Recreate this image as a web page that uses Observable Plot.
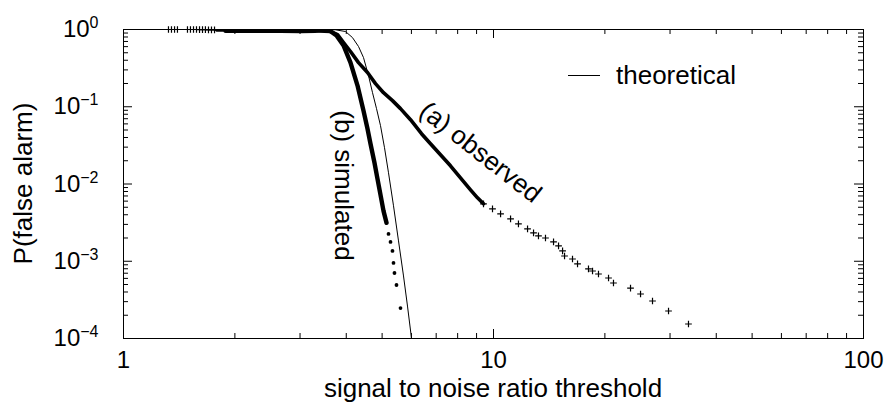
<!DOCTYPE html>
<html><head><meta charset="utf-8">
<script src="https://cdn.jsdelivr.net/npm/d3@7"></script>
<script src="https://cdn.jsdelivr.net/npm/@observablehq/plot@0.6"></script>
<style>
  body { margin: 0; background: #fff; }
  #chart { width: 888px; height: 410px; }
</style>
</head><body>
<div id="chart"></div>
<script>
// ---------- data ----------
const theoSnr = [1.0, 3.008, 3.741, 3.981, 4.157, 4.317, 4.453, 4.594, 4.710, 4.829, 4.950, 5.075, 5.203, 5.367, 5.537, 5.712, 5.855, 6.002, 6.04];
const theoPfa = [1.0, 1.0, 0.991, 0.942, 0.787, 0.602, 0.433, 0.253, 0.152, 0.0945, 0.0569, 0.0295, 0.01397, 0.00522, 0.001834, 0.000645, 0.000263, 0.000101, 0.00008];

const obsSnr = [1.323, 1.348, 1.374, 1.399, 1.489, 1.517, 1.546, 1.575, 1.605, 1.635, 1.665, 1.697, 1.729, 1.762,
  1.784, 1.946, 2.274, 2.657, 3.008, 3.365, 3.626, 3.788, 3.932, 4.107, 4.317, 4.565, 4.798, 5.043, 5.333, 5.606, 5.967,
  6.390, 6.756, 7.190, 7.651, 8.143, 8.667, 9.053, 9.397,
  9.938, 10.45, 11.12, 11.68, 12.36, 12.83, 13.23, 13.82, 14.53, 14.99, 15.37, 15.56, 16.35, 16.87, 18.06, 18.52, 19.22,
  20.46, 21.10, 23.46, 24.97, 26.90, 29.72, 33.65];
const obsPfa = [1, 1, 1, 1, 1, 1, 1, 1, 0.995, 0.995, 0.995, 0.99, 0.99, 0.99,
  0.99, 0.985, 0.975, 0.97, 0.96, 0.955, 0.945, 0.861, 0.678, 0.519, 0.373, 0.277, 0.199, 0.152, 0.120, 0.0945, 0.0680,
  0.0448, 0.0332, 0.0239, 0.0172, 0.01203, 0.00841, 0.00662, 0.00554,
  0.00477, 0.00411, 0.00354, 0.00305, 0.00262, 0.00233, 0.00213, 0.00200, 0.00178, 0.00158, 0.00136, 0.00117, 0.00107, 0.000923, 0.000795, 0.000748, 0.000684,
  0.000607, 0.000523, 0.000450, 0.000377, 0.000306, 0.000227, 0.000154];

const simSnr = [1.887, 2.204, 2.657, 3.008, 3.303, 3.471, 3.626, 3.764, 3.932, 4.107, 4.290, 4.453, 4.565, 4.651, 4.768, 4.858, 4.950, 5.043, 5.139,
  5.203, 5.268, 5.333, 5.367, 5.400, 5.468, 5.606];
const simPfa = [0.96, 0.96, 0.96, 0.955, 0.965, 1.0, 0.95, 0.836, 0.620, 0.373, 0.188, 0.0890, 0.0520, 0.0332, 0.01884, 0.01168, 0.00724, 0.00449, 0.00314,
  0.00226, 0.00178, 0.00136, 0.00095, 0.000705, 0.000493, 0.000248];

const xMajor = [1, 10, 100];
const xMinor = [2, 3, 4, 5, 6, 7, 8, 9, 20, 30, 40, 50, 60, 70, 80, 90];
const yMajor = [1e-4, 1e-3, 1e-2, 1e-1, 1];
const yMinor = [-4, -3, -2, -1].flatMap(e => [2, 3, 4, 5, 6, 7, 8, 9].map(k => k * Math.pow(10, e)));

const xTitle = "signal to noise ratio threshold";
const yTitle = "P(false alarm)";
const legendLabel = "theoretical";
const curveLabels = [
  {text: "(a) observed", snr: 9.22, pfa: 0.0256, rotate: 38},
  {text: "(b) simulated", snr: 3.93, pfa: 0.00957, rotate: 90}
];

// ---------- build tables ----------
const theo = theoSnr.map((s, i) => ({snr: s, pfa: theoPfa[i]}));
const obs = obsSnr.map((s, i) => ({snr: s, pfa: obsPfa[i]}));
const sim = simSnr.map((s, i) => ({snr: s, pfa: simPfa[i]}));
const obsDense = obs.filter(d => d.snr >= 1.78 && d.snr <= 9.4);
const obsSparse = obs.filter(d => d.snr < 1.78 || d.snr >= 9.39);
const simDense = sim.filter(d => d.snr <= 5.14);
const simSparse = sim.filter(d => d.snr >= 5.2);

const W = 888, H = 410, mL = 123, mR = 25, mT = 29, mB = 72;
const fw = W - mL - mR, fh = H - mT - mB;
const FONT = "'Liberation Sans', Arial, Helvetica, sans-serif";

const plot = Plot.plot({
  width: W, height: H,
  marginLeft: mL, marginRight: mR, marginTop: mT, marginBottom: mB,
  x: {type: "log", domain: [1, 100]},
  y: {type: "log", domain: [1e-4, 1]},
  style: {fontFamily: FONT, fontSize: "24px", background: "white", color: "black"},
  marks: [
    Plot.line(theo, {x: "snr", y: "pfa", stroke: "black", strokeWidth: 1, clip: true}),
    Plot.line(obsDense, {x: "snr", y: "pfa", stroke: "black", strokeWidth: 3.6, strokeLinejoin: "round", strokeLinecap: "round", clip: true}),
    Plot.dot(obsSparse, {x: "snr", y: "pfa", symbol: "plus", r: 2.3, stroke: "black", strokeWidth: 1.2}),
    Plot.line(simDense, {x: "snr", y: "pfa", stroke: "black", strokeWidth: 4.4, strokeLinejoin: "round", strokeLinecap: "round", clip: true}),
    Plot.dot(simSparse, {x: "snr", y: "pfa", r: 1.9, fill: "black", stroke: "none"}),
    Plot.frame({stroke: "black", strokeWidth: 1}),
    // inward ticks, all four sides
    Plot.tickX(xMajor, {x: d => d, insetTop: fh - 9, stroke: "black"}),
    Plot.tickX(xMajor, {x: d => d, insetBottom: fh - 9, stroke: "black"}),
    Plot.tickX(xMinor, {x: d => d, insetTop: fh - 5, stroke: "black"}),
    Plot.tickX(xMinor, {x: d => d, insetBottom: fh - 5, stroke: "black"}),
    Plot.tickY(yMajor, {y: d => d, insetRight: fw - 9, stroke: "black"}),
    Plot.tickY(yMajor, {y: d => d, insetLeft: fw - 9, stroke: "black"}),
    Plot.tickY(yMinor, {y: d => d, insetRight: fw - 5, stroke: "black"}),
    Plot.tickY(yMinor, {y: d => d, insetLeft: fw - 5, stroke: "black"}),
    Plot.axisX({ticks: xMajor, tickSize: 0, tickPadding: 12, tickFormat: d => String(d), label: null}),
    Plot.axisY({ticks: yMajor, tickSize: 0, tickPadding: 25, tickFormat: d => "10^" + Math.round(Math.log10(d)), label: null}),
    Plot.text(curveLabels, {x: "snr", y: "pfa", text: "text", rotate: "rotate", fontSize: 26, textAnchor: "middle", lineAnchor: "middle", fill: "black"})
  ]
});

document.getElementById("chart").appendChild(plot);
const svg = d3.select(plot);

// superscript exponents on the y tick labels
svg.selectAll('g[aria-label="y-axis tick label"] text').each(function () {
  const t = this.textContent;
  const parts = t.split("^");
  if (parts.length !== 2) return;
  const sel = d3.select(this);
  sel.text(parts[0]);
  sel.append("tspan").attr("dy", "-9").attr("font-size", "16px").text(parts[1].replace("-", "\u2212"));
});

// axis titles
svg.append("text").attr("x", mL + fw / 2).attr("y", 397).attr("text-anchor", "middle")
  .attr("font-size", 26).attr("font-family", FONT).attr("fill", "black").text(xTitle);
svg.append("text").attr("transform", "translate(32," + (mT + fh / 2) + ") rotate(-90)").attr("text-anchor", "middle")
  .attr("font-size", 26).attr("font-family", FONT).attr("fill", "black").text(yTitle);

// legend
svg.append("line").attr("x1", 568).attr("x2", 600).attr("y1", 75.5).attr("y2", 75.5).attr("stroke", "black").attr("stroke-width", 1);
svg.append("text").attr("x", 616).attr("y", 83.5).attr("text-anchor", "start")
  .attr("font-size", 26).attr("font-family", FONT).attr("fill", "black").text(legendLabel);
</script>
</body></html>
